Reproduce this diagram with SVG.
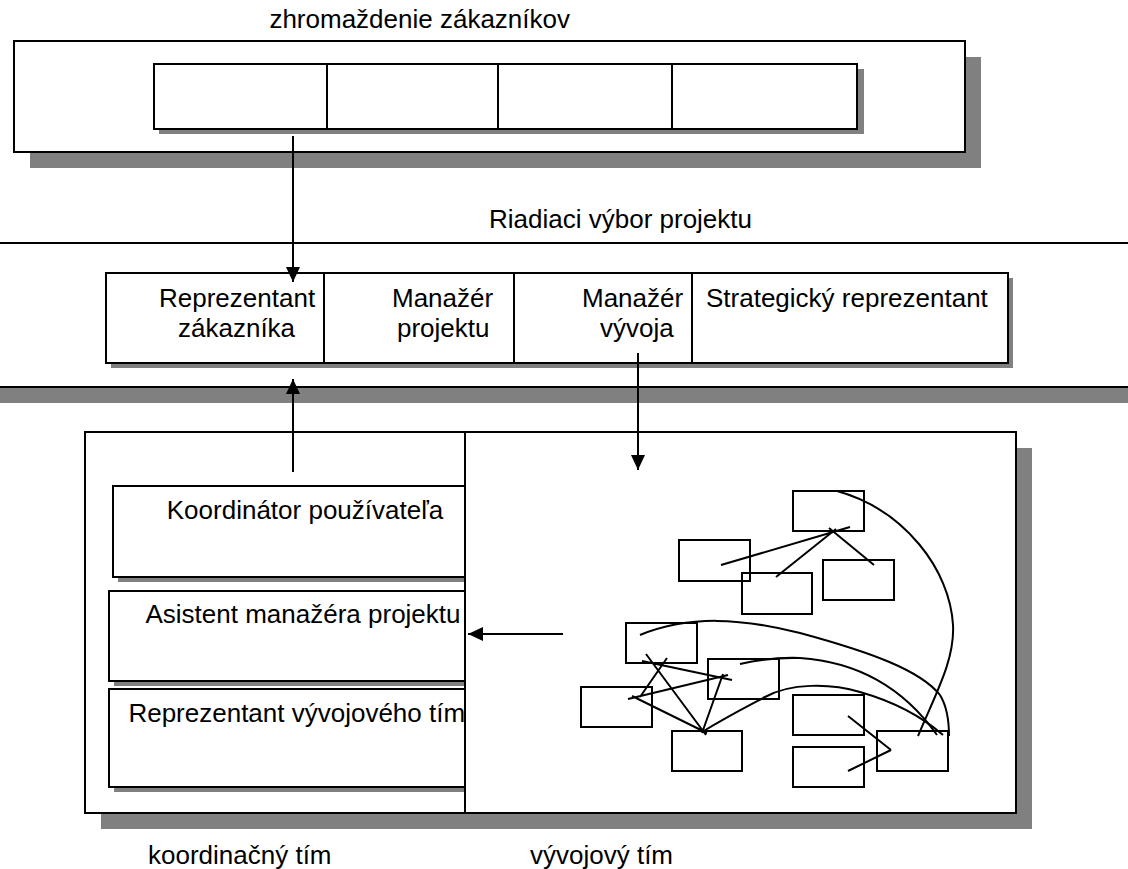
<svg xmlns="http://www.w3.org/2000/svg" width="1128" height="869" viewBox="0 0 1128 869">
<style>
.t{font-family:"Liberation Sans",Arial,sans-serif;font-size:26px;fill:#000}
.box{fill:#fff;stroke:#000;stroke-width:2}
.sh{fill:#808080}
.ln{stroke:#000;stroke-width:2;fill:none}
.nb{fill:none;stroke:#000;stroke-width:2}
</style>
<defs>
<marker id="ah" viewBox="0 0 15 14" refX="15" refY="7" markerWidth="15" markerHeight="14" markerUnits="userSpaceOnUse" orient="auto"><path d="M0,0 L15,7 L0,14 z" fill="#000"/></marker>
</defs>
<rect width="1128" height="869" fill="#fff"/>

<g id="zhromazdenie">
<rect class="sh" x="30" y="57" width="951" height="111"/>
<rect class="box" x="14" y="41" width="951" height="111"/>
<rect class="sh" x="159" y="69" width="173" height="65"/>
<rect class="box" x="154" y="64" width="173" height="65"/>
<rect class="sh" x="332" y="69" width="171" height="65"/>
<rect class="box" x="327" y="64" width="171" height="65"/>
<rect class="sh" x="503" y="69" width="174" height="65"/>
<rect class="box" x="498" y="64" width="174" height="65"/>
<rect class="sh" x="677" y="69" width="187" height="65"/>
<rect class="box" x="672" y="64" width="185" height="65"/>
<text class="t" x="570" y="28" text-anchor="end">zhromaždenie zákazníkov</text>
</g>

<g id="riadiaci-vybor">
<line class="ln" x1="0" y1="243" x2="1128" y2="243"/>
<text class="t" x="489" y="228">Riadiaci výbor projektu</text>
<rect class="sh" x="0" y="388" width="1128" height="15"/>
<line class="ln" x1="0" y1="387" x2="1128" y2="387"/>
</g>

<g id="reprezentant-zakaznika">
<rect class="sh" x="111" y="278" width="218" height="90"/>
<rect class="box" x="106" y="273" width="218" height="90"/>
<text class="t" x="159" y="307">Reprezentant</text>
<text class="t" x="178" y="337">zákazníka</text>
</g>
<g id="manazer-projektu">
<rect class="sh" x="329" y="278" width="190" height="90"/>
<rect class="box" x="324" y="273" width="190" height="90"/>
<text class="t" x="392" y="307">Manažér</text>
<text class="t" x="397" y="337">projektu</text>
</g>
<g id="manazer-vyvoja">
<rect class="sh" x="519" y="278" width="178" height="90"/>
<rect class="box" x="514" y="273" width="178" height="90"/>
<text class="t" x="582" y="307">Manažér</text>
<text class="t" x="600" y="337">vývoja</text>
</g>
<g id="strategicky-reprezentant">
<rect class="sh" x="697" y="278" width="316" height="90"/>
<rect class="box" x="692" y="273" width="316" height="90"/>
<text class="t" x="706" y="307">Strategický reprezentant</text>
</g>

<g id="koordinacny-tim">
<rect class="sh" x="101" y="448" width="420" height="381"/>
<rect class="box" x="85" y="432" width="420" height="381"/>
<g id="koordinator">
<rect class="sh" x="118" y="491" width="400" height="91"/>
<rect class="box" x="113" y="486" width="400" height="91"/>
<text class="t" x="305" y="519" text-anchor="middle">Koordinátor používateľa</text>
</g>
<g id="asistent">
<rect class="sh" x="114" y="596" width="400" height="90"/>
<rect class="box" x="109" y="591" width="400" height="90"/>
<text class="t" x="303" y="623" text-anchor="middle">Asistent manažéra projektu</text>
</g>
<g id="reprezentant-vyvojoveho-timu">
<rect class="sh" x="114" y="694" width="400" height="98"/>
<rect class="box" x="109" y="689" width="400" height="98"/>
<text class="t" x="304" y="722" text-anchor="middle">Reprezentant vývojového tímu</text>
</g>
<text class="t" x="148" y="864">koordinačný tím</text>
</g>

<g id="vyvojovy-tim">
<rect class="sh" x="481" y="448" width="551" height="381"/>
<rect class="box" x="465" y="432" width="551" height="381"/>
<g id="siet">
<rect class="nb" x="793" y="491" width="71" height="40"/>
<rect class="nb" x="679" y="540" width="71" height="41"/>
<rect class="nb" x="742" y="573" width="70" height="41"/>
<rect class="nb" x="823" y="560" width="71" height="40"/>
<rect class="nb" x="626" y="623" width="71" height="40"/>
<rect class="nb" x="708" y="659" width="71" height="40"/>
<rect class="nb" x="581" y="687" width="71" height="40"/>
<rect class="nb" x="672" y="731" width="70" height="40"/>
<rect class="nb" x="793" y="695" width="71" height="40"/>
<rect class="nb" x="793" y="747" width="71" height="40"/>
<rect class="nb" x="877" y="731" width="71" height="40"/>
<path class="ln" d="M721,565 L850,527 M776,577 L836,529 M874,565 L829,528"/>
<path class="ln" d="M837,491 C905,510 950,570 953,625 C955,660 935,695 918,736"/>
<path class="ln" d="M640,635 C690,615 740,618 800,633 C870,652 920,670 940,695 C948,708 949,725 949,736"/>
<path class="ln" d="M740,664 Q770,657 800,658 C860,662 905,690 937,735"/>
<path class="ln" d="M702,732 C730,715 750,705 765,697 C790,683 830,683 860,692 C895,702 920,715 943,735"/>
<path class="ln" d="M646,654 L706,735 M642,661 L732,680 M667,658 L640,697 M628,699 L728,675 M632,696 L707,733 M723,674 L702,733"/>
<path class="ln" d="M848,716 L891,750 M848,771 L891,750"/>
</g>
<text class="t" x="530" y="864">vývojový tím</text>
</g>

<g id="spojnice">
<line class="ln" x1="293" y1="136" x2="293" y2="282" marker-end="url(#ah)"/>
<line class="ln" x1="293" y1="472" x2="293" y2="379" marker-end="url(#ah)"/>
<line class="ln" x1="638" y1="353" x2="638" y2="470" marker-end="url(#ah)"/>
<line class="ln" x1="563" y1="634" x2="468" y2="634" marker-end="url(#ah)"/>
</g>
</svg>
